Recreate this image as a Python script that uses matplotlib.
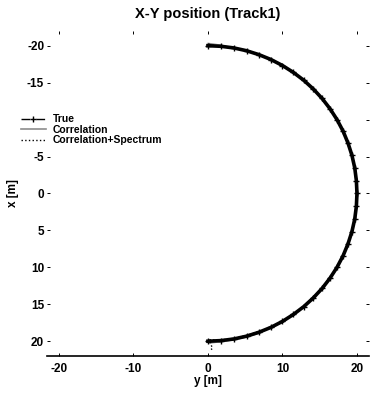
import numpy as np
import matplotlib
matplotlib.use('Agg')
import matplotlib.pyplot as plt

plt.rcParams['font.family'] = ['Liberation Sans', 'DejaVu Sans']
plt.rcParams['font.weight'] = 'bold'
plt.rcParams['axes.unicode_minus'] = False

# track positions in metres (y across, x along)
y_true = [0.00, 1.74, 3.47, 5.18, 6.84, 8.45, 10.00, 11.47, 12.86, 14.14,
          15.32, 16.38, 17.32, 18.13, 18.79, 19.32, 19.70, 19.92, 20.00,
          19.92, 19.70, 19.32, 18.79, 18.13, 17.32, 16.38, 15.32, 14.14,
          12.86, 11.47, 10.00, 8.45, 6.84, 5.18, 3.47, 1.74, 0.00]
x_true = [-20.00, -19.92, -19.70, -19.32, -18.79, -18.13, -17.32, -16.38,
          -15.32, -14.14, -12.86, -11.47, -10.00, -8.45, -6.84, -5.18, -3.47,
          -1.74, 0.00, 1.74, 3.47, 5.18, 6.84, 8.45, 10.00, 11.47, 12.86,
          14.14, 15.32, 16.38, 17.32, 18.13, 18.79, 19.32, 19.70, 19.92, 20.00]

y_corr = [0.05, 1.80, 3.40, 5.25, 6.90, 8.40, 10.10, 11.40, 12.95, 14.05,
          15.40, 16.30, 17.40, 18.05, 18.85, 19.25, 19.78, 19.85, 20.10,
          19.85, 19.78, 19.25, 18.85, 18.05, 17.40, 16.30, 15.40, 14.05,
          12.95, 11.40, 10.10, 8.40, 6.90, 5.25, 3.40, 1.80, 0.10]
x_corr = [-20.30, -20.05, -19.65, -19.40, -18.70, -18.20, -17.25, -16.45,
          -15.25, -14.20, -12.80, -11.55, -9.95, -8.50, -6.80, -5.25, -3.40,
          -1.80, 0.05, 1.70, 3.55, 5.10, 6.90, 8.40, 10.05, 11.40, 12.95,
          14.05, 15.40, 16.30, 17.40, 18.05, 18.90, 19.40, 19.80, 20.05, 20.25]

y_cs = [0.10, 1.65, 3.55, 5.10, 6.80, 8.55, 9.90, 11.55, 12.80, 14.20,
        15.25, 16.45, 17.25, 18.20, 18.70, 19.40, 19.65, 20.00, 19.95,
        20.00, 19.65, 19.40, 18.70, 18.20, 17.25, 16.45, 15.25, 14.20,
        12.80, 11.55, 9.90, 8.55, 6.80, 5.10, 3.55, 1.65, 0.20, 0.60, 0.15]
x_cs = [-20.20, -19.85, -19.75, -19.25, -18.85, -18.05, -17.40, -16.30,
        -15.40, -14.05, -12.95, -11.40, -10.05, -8.40, -6.90, -5.10, -3.55,
        -1.65, 0.00, 1.80, 3.40, 5.25, 6.75, 8.50, 9.95, 11.55, 12.80,
        14.20, 15.25, 16.45, 17.25, 18.20, 18.70, 19.25, 19.60, 19.85, 19.80,
        21.00, 21.30]

y_ticks = [-20, -10, 0, 10, 20]
x_ticks = [-20, -15, -10, -5, 0, 5, 10, 15, 20]

fig = plt.figure(figsize=(3.7, 3.94), dpi=100)
ax = fig.add_axes([0.127, 0.0965, 0.870, 0.825])

ax.plot(y_corr, x_corr, color='0.55', linestyle='-', linewidth=1.2,
        label='Correlation', zorder=1)
ax.plot(y_true, x_true, color='black', linestyle='-.', linewidth=1.0,
        marker='+', markersize=4, markeredgewidth=1.0, label='True', zorder=3)
ax.plot(y_cs, x_cs, color='black', linestyle=':', linewidth=1.0,
        label='Correlation+Spectrum', zorder=2)
# heavy overlay where the three estimates coincide
ax.plot(y_true, x_true, color='black', linewidth=2.6, zorder=2)

ax.set_xlim(-21.6, 21.6)
ax.set_ylim(22, -22)
ax.set_xticks(y_ticks)
ax.set_yticks(x_ticks)
ax.tick_params(direction='in', length=2, width=0.7, labelsize=8.5,
               top=True, right=True, pad=2)
ax.tick_params(axis='x', pad=5)
for lbl in ax.get_xticklabels() + ax.get_yticklabels():
    lbl.set_fontweight('bold')
for side in ['left', 'top', 'right']:
    ax.spines[side].set_visible(False)
ax.spines['bottom'].set_linewidth(1.2)

ax.set_title('X-Y position (Track1)', fontsize=10.5, fontweight='bold', pad=9)
ax.set_xlabel('y [m]', fontsize=8.5, fontweight='bold', labelpad=0)
ax.set_ylabel('x [m]', fontsize=8.5, fontweight='bold', labelpad=6)

handles, labels = ax.get_legend_handles_labels()
order = [1, 0, 2]
leg = ax.legend([handles[i] for i in order], [labels[i] for i in order],
                loc='upper left', bbox_to_anchor=(0.05, 0.715),
                bbox_transform=fig.transFigure, fontsize=7.5, frameon=True,
                facecolor='white', edgecolor='white', framealpha=1,
                numpoints=1, handlelength=2.4, handletextpad=0.7,
                labelspacing=0.05, borderpad=0.2, borderaxespad=0)
for t in leg.get_texts():
    t.set_fontweight('bold')

fig.savefig('out.png', dpi=100)
